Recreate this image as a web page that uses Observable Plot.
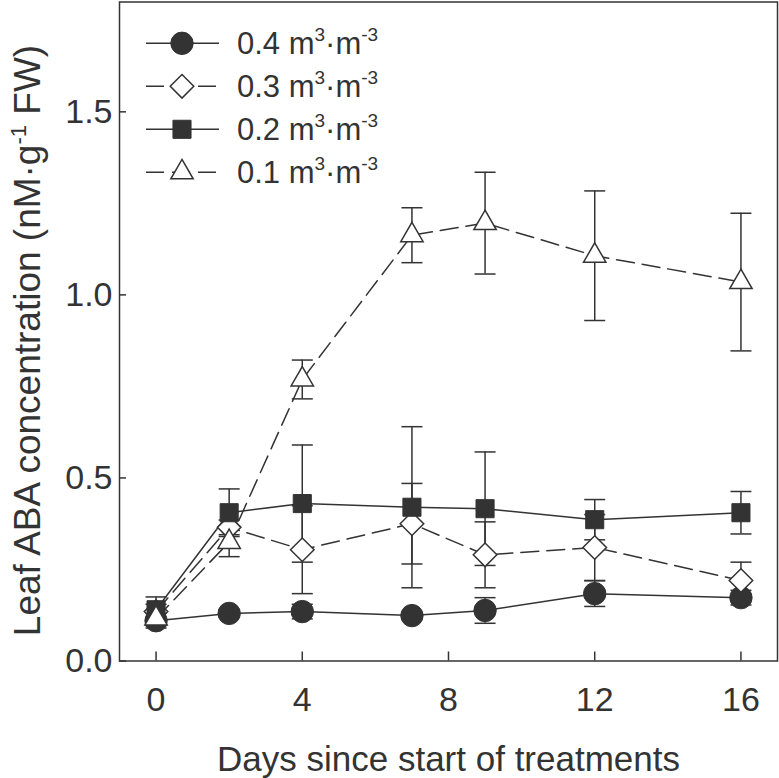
<!DOCTYPE html>
<html><head><meta charset="utf-8">
<script src="https://cdn.jsdelivr.net/npm/d3@7"></script>
<script src="https://cdn.jsdelivr.net/npm/@observablehq/plot@0.6"></script>
<style>
html,body{margin:0;padding:0;background:#fff;}
#chart svg{display:block;}
</style>
</head><body>
<div id="chart"></div>
<script>
// ---------- data ----------
const days = [0, 2, 4, 7, 9, 12, 16];
const seriesLabels = ["0.4", "0.3", "0.2", "0.1"];
const mean04 = [0.110, 0.130, 0.135, 0.124, 0.138, 0.184, 0.173];
const err04  = [0.020, 0.010, 0.020, 0.010, 0.035, 0.035, 0.020];
const mean03 = [0.135, 0.365, 0.304, 0.375, 0.290, 0.310, 0.220];
const err03  = [0.020, 0.020, 0.120, 0.110, 0.090, 0.090, 0.050];
const mean02 = [0.140, 0.405, 0.430, 0.420, 0.416, 0.386, 0.405];
const err02  = [0.035, 0.065, 0.160, 0.220, 0.155, 0.055, 0.058];
const mean01 = [0.116, 0.325, 0.769, 1.163, 1.196, 1.107, 1.035];
const err01  = [0.020, 0.040, 0.053, 0.075, 0.139, 0.177, 0.188];
const xTicks = [0, 4, 8, 12, 16];
const yTicks = [0, 0.5, 1.0, 1.5];
const yTickLabels = ["0.0", "0.5", "1.0", "1.5"];
const xDomain = [-1, 17];
const yDomain = [0, 1.8];
const xTitle = "Days since start of treatments";
const yTitleMain = "Leaf ABA concentration (nM·g";
const yTitleSup = "-1";
const yTitleEnd = " FW)";
const unitMain = " m", unitSup1 = "3", unitMid = "·m", unitSup2 = "-3";

// ---------- style ----------
const INK = "#333333";
const FONT = "'Liberation Sans', Arial, Helvetica, sans-serif";
const W = 779, H = 778;
const mL = 119, mR = 2, mT = 1.5, mB = 117.5;
const plotW = W - mL - mR, plotH = H - mT - mB;

function rowsOf(name, means, errs) {
  return days.map((d, i) => ({series: name, day: d, mean: means[i], err: errs[i]}));
}
const r04 = rowsOf(seriesLabels[0], mean04, err04);
const r03 = rowsOf(seriesLabels[1], mean03, err03);
const r02 = rowsOf(seriesLabels[2], mean02, err02);
const r01 = rowsOf(seriesLabels[3], mean01, err01);
const allRows = [...r04, ...r03, ...r02, ...r01];
const caps = allRows.flatMap(d => [{day: d.day, y: d.mean - d.err}, {day: d.day, y: d.mean + d.err}]);

const capSymbol = {
  draw(context, size) {
    const w = Math.sqrt(size / Math.PI);
    context.moveTo(-w, 0);
    context.lineTo(w, 0);
  }
};
const DASH = "18,8";

const chart = Plot.plot({
  width: W, height: H,
  marginLeft: mL, marginRight: mR, marginTop: mT, marginBottom: mB,
  style: {fontFamily: FONT, fontSize: "34px", color: INK, background: "white", overflow: "visible"},
  x: {domain: xDomain, axis: null},
  y: {domain: yDomain, axis: null},
  marks: [
    // inward ticks
    Plot.tickX(xTicks, {x: d => d, stroke: INK, strokeWidth: 1.5, insetTop: plotH - 9}),
    Plot.tickY(yTicks, {y: d => d, stroke: INK, strokeWidth: 1.5, insetRight: plotW - 7}),
    // tick labels
    Plot.text(xTicks, {x: d => d, text: d => String(d), frameAnchor: "bottom", lineAnchor: "top", dy: 26, fill: INK, fontSize: 34}),
    Plot.text(yTicks, {y: d => d, text: (d, i) => yTickLabels[i], frameAnchor: "left", textAnchor: "end", dx: -7, fill: INK, fontSize: 34}),
    // axis titles
    Plot.text([xTitle], {text: d => d, frameAnchor: "bottom", lineAnchor: "top", textAnchor: "middle", dy: 85, fill: INK, fontSize: 35}),
    Plot.text([yTitleMain + yTitleSup + yTitleEnd], {text: d => d, frameAnchor: "left", textAnchor: "middle", rotate: -90, dx: -91, dy: 9, fill: INK, fontSize: 37}),
    // error bars
    Plot.ruleX(allRows, {x: "day", y1: d => d.mean - d.err, y2: d => d.mean + d.err, stroke: INK, strokeWidth: 1.5}),
    Plot.dot(caps, {x: "day", y: "y", symbol: capSymbol, r: 10.5, fill: "none", stroke: INK, strokeWidth: 1.5}),
    // lines
    Plot.line(r04, {x: "day", y: "mean", stroke: INK, strokeWidth: 1.5}),
    Plot.line(r03, {x: "day", y: "mean", stroke: INK, strokeWidth: 1.5, strokeDasharray: DASH}),
    Plot.line(r02, {x: "day", y: "mean", stroke: INK, strokeWidth: 1.5}),
    Plot.line(r01, {x: "day", y: "mean", stroke: INK, strokeWidth: 1.5, strokeDasharray: DASH}),
    // markers
    Plot.dot(r04, {x: "day", y: "mean", symbol: "circle", r: 11.2, fill: INK, stroke: INK, strokeWidth: 1}),
    Plot.dot(r03, {x: "day", y: "mean", symbol: "diamond2", r: 10.6, fill: "white", stroke: INK, strokeWidth: 1.5}),
    Plot.dot(r02, {x: "day", y: "mean", symbol: "square", r: 10.2, fill: INK, stroke: INK, strokeWidth: 1}),
    Plot.dot(r01, {x: "day", y: "mean", symbol: "triangle", r: 8.3, fill: "white", stroke: INK, strokeWidth: 1.5}),
    Plot.frame({stroke: INK, strokeWidth: 1.5})
  ]
});

document.getElementById("chart").appendChild(chart);
const svg = d3.select(chart.tagName.toLowerCase() === "svg" ? chart : chart.querySelector("svg"));

// superscript in y title
svg.selectAll("text").each(function() {
  if (this.textContent === yTitleMain + yTitleSup + yTitleEnd) {
    const t = d3.select(this);
    t.text(null);
    t.append("tspan").text(yTitleMain);
    t.append("tspan").attr("dy", -14).attr("font-size", 22).text(yTitleSup);
    t.append("tspan").attr("dy", 14).text(yTitleEnd);
  }
});

// legend
const legendItems = [
  {label: seriesLabels[0], sym: d3.symbolCircle, size: Math.PI * 11.2 * 11.2, fill: INK, sw: 1, dash: null},
  {label: seriesLabels[1], sym: d3.symbolDiamond2, size: Math.PI * 10.6 * 10.6, fill: "white", sw: 1.5, dash: DASH},
  {label: seriesLabels[2], sym: d3.symbolSquare, size: Math.PI * 10.2 * 10.2, fill: INK, sw: 1, dash: null},
  {label: seriesLabels[3], sym: d3.symbolTriangle, size: Math.PI * 8.3 * 8.3, fill: "white", sw: 1.5, dash: DASH}
];
const lg = svg.append("g").attr("font-family", FONT).attr("fill", INK).attr("text-anchor", "start");
legendItems.forEach((it, i) => {
  const cy = 43.3 + i * 43;
  const g = lg.append("g").attr("transform", `translate(0,${cy})`);
  g.append("line").attr("x1", 146).attr("x2", 219).attr("y1", 0).attr("y2", 0)
    .attr("stroke", INK).attr("stroke-width", 1.5).attr("stroke-dasharray", it.dash);
  g.append("path").attr("d", d3.symbol(it.sym, it.size)()).attr("transform", "translate(182,0)")
    .attr("fill", it.fill).attr("stroke", INK).attr("stroke-width", it.sw);
  const t = g.append("text").attr("x", 237).attr("y", 11).attr("font-size", 31)
    .attr("fill", INK).attr("text-anchor", "start");
  t.append("tspan").text(it.label + unitMain);
  t.append("tspan").attr("dy", -13.5).attr("font-size", 19).text(unitSup1);
  t.append("tspan").attr("dy", 13.5).text(unitMid);
  t.append("tspan").attr("dy", -13.5).attr("font-size", 19).text(unitSup2);
});
</script>
</body></html>
